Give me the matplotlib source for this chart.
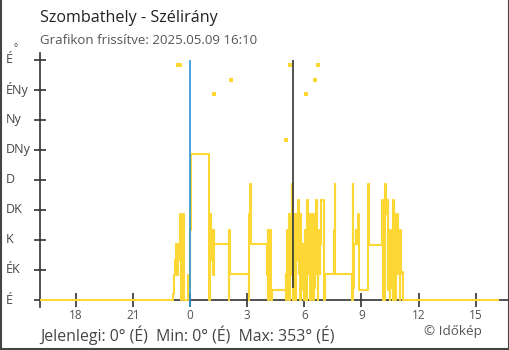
import matplotlib
matplotlib.use('Agg')
import matplotlib.pyplot as plt
from matplotlib.lines import Line2D
from matplotlib.transforms import blended_transform_factory
import numpy as np

# Wind direction, minutes from midnight (negative = previous evening) and degrees
minutes = [-470, -54, -50, -47, -44, -41, -39, -38, -35, -31, -29, -28, -27, -25, -23, -22, -20, -19, -5, -2, 0, 2,
           61, 62, 64, 65, 67, 68, 70, 72, 73, 75, 77,
           122, 124, 125,
           186, 187, 189, 191,
           244, 246, 247, 249, 250, 252, 254, 255, 257,
           301, 303, 305, 307, 309, 311, 313, 315, 318, 320, 322, 324, 326, 328, 331, 332, 334, 335, 337, 339, 341,
           343, 344, 347, 349, 351, 353, 355, 357, 359, 361, 362, 364, 366, 369, 372, 374, 376, 378, 380, 381,
           384, 386, 387, 389, 391, 394, 395, 397, 398, 400, 403, 404, 406, 408, 410, 413,
           423, 425, 454, 456, 458,
           510, 512, 513, 515, 517, 523, 524, 529, 531, 561, 563,
           606, 608, 609, 615, 617, 624, 625, 627, 630, 631, 633, 636, 638, 641, 643, 645, 647, 649, 652, 653,
           655, 658, 660, 662, 664, 667, 671, 970]
directions = [0, 9, 38, 60, 84, 38, 84, 60, 84, 129, 38, 84, 0, 84, 60, 129, 38, 0, 38, 18, 105, 219,
              0, 105, 60, 129, 84, 105, 60, 84, 38, 105, 84,
              0, 105, 39,
              0, 129, 174, 84,
              38, 105, 0, 60, 18, 105, 38, 0, 15,
              39, 0, 84, 105, 38, 129, 0, 60, 129, 174, 38, 84, 0, 84, 39, 129, 0, 84, 60, 105, 150,
              39, 84, 0, 129, 39, 84, 15, 84, 0, 105, 39, 84, 0, 150, 39, 84, 129, 0, 105, 60,
              129, 39, 84, 0, 60, 18, 129, 39, 150, 84, 0, 60, 105, 39, 84, 150,
              0, 39, 105, 174, 39,
              0, 174, 129, 18, 84, 105, 84, 129, 15, 174, 83,
              150, 39, 0, 174, 129, 150, 15, 105, 0, 84, 18, 105, 0, 150, 39, 129, 0, 117, 60, 129,
              39, 105, 0, 105, 39, 42, 0, 0]

# readings near north that are shown as single dots
point_minutes = [-38, -30, 76, 129, 302, 315, 365, 394, 403]
point_dirs = [353, 353, 309, 330, 240, 353, 309, 330, 353]

sunrise = 5.42
tick_hours = [-6, -3, 0, 3, 6, 9, 12, 15]
tick_labels = ['18', '21', '0', '3', '6', '9', '12', '15']
dir_ticks = [0, 45, 90, 135, 180, 225, 270, 315, 360]
dir_labels = ['É', 'ÉK', 'K', 'DK', 'D', 'DNy', 'Ny', 'ÉNy', 'É']

yellow = '#fdd835'
axis_col = '#333333'

plt.rcParams['font.family'] = ['Open Sans', 'DejaVu Sans']

fig = plt.figure(figsize=(5.1, 3.5), dpi=100)
ax = fig.add_axes([40 / 510, 0.1238, 470 / 510, 0.724])

hours = np.array(minutes) / 60
ax.plot(hours, directions, drawstyle='steps-post', color=yellow, lw=1.5, zorder=3)
ax.plot(np.array(point_minutes) / 60, point_dirs, 's', ms=2.6, mew=0, color=yellow, zorder=3)

ax.vlines(0, -10, 360, color='#2b95d6', lw=1.2, zorder=4)
ax.vlines(sunrise, 18, 360, color=axis_col, lw=1.2, zorder=4)

ax.set_xlim(-7.874, 16.8)
ax.set_ylim(-10, 370)
ax.spines[['top', 'right']].set_visible(False)
ax.spines['bottom'].set_position(('data', 0))
for s in ['left', 'bottom']:
    ax.spines[s].set_color(axis_col)
    ax.spines[s].set_linewidth(1.2)

ax.set_xticks(tick_hours)
ax.set_xticklabels(tick_labels)
ax.tick_params(axis='x', direction='inout', length=9.4, width=1.2, color=axis_col,
               labelsize=8.5, labelcolor='#555555', pad=1.5)
ax.set_yticks(dir_ticks)
ax.tick_params(axis='y', direction='inout', length=9, width=1.2, color=axis_col, labelleft=False)

trans = blended_transform_factory(fig.transFigure, ax.transData)
for d, lab in zip(dir_ticks, dir_labels):
    fig.text(6 / 510, d, lab, transform=trans, ha='left', va='center', fontsize=9, color='#444444')
fig.text(16 / 510, 1 - 49 / 350, '°', ha='center', va='center', fontsize=7, color='#444444')

fig.text(40 / 510, 1 - 18 / 350, 'Szombathely - Szélirány', ha='left', va='center', fontsize=11.6, color='#222222')
fig.text(40 / 510, 1 - 41 / 350, 'Grafikon frissítve: 2025.05.09 16:10', ha='left', va='center',
         fontsize=9.5, color='#555555')
fig.text(40 / 510, 1 - 335 / 350, 'Jelenlegi: 0° (É)  Min: 0° (É)  Max: 353° (É)', ha='left', va='center',
         fontsize=11.4, color='#444444')
fig.text(482 / 510, 1 - 332 / 350, '© Időkép', ha='right', va='center', fontsize=9.7, color='#555555')

# frame on left, right and bottom
fx0, fx1, fy0 = 0.8 / 510, 509.2 / 510, 0.8 / 350
fig.add_artist(Line2D([fx0, fx0], [fy0, 1], transform=fig.transFigure, color='#444444', lw=1.5))
fig.add_artist(Line2D([fx1, fx1], [fy0, 1], transform=fig.transFigure, color='#444444', lw=1.5))
fig.add_artist(Line2D([fx0, fx1], [fy0, fy0], transform=fig.transFigure, color='#444444', lw=1.5))

fig.savefig('out.png', dpi=100)
